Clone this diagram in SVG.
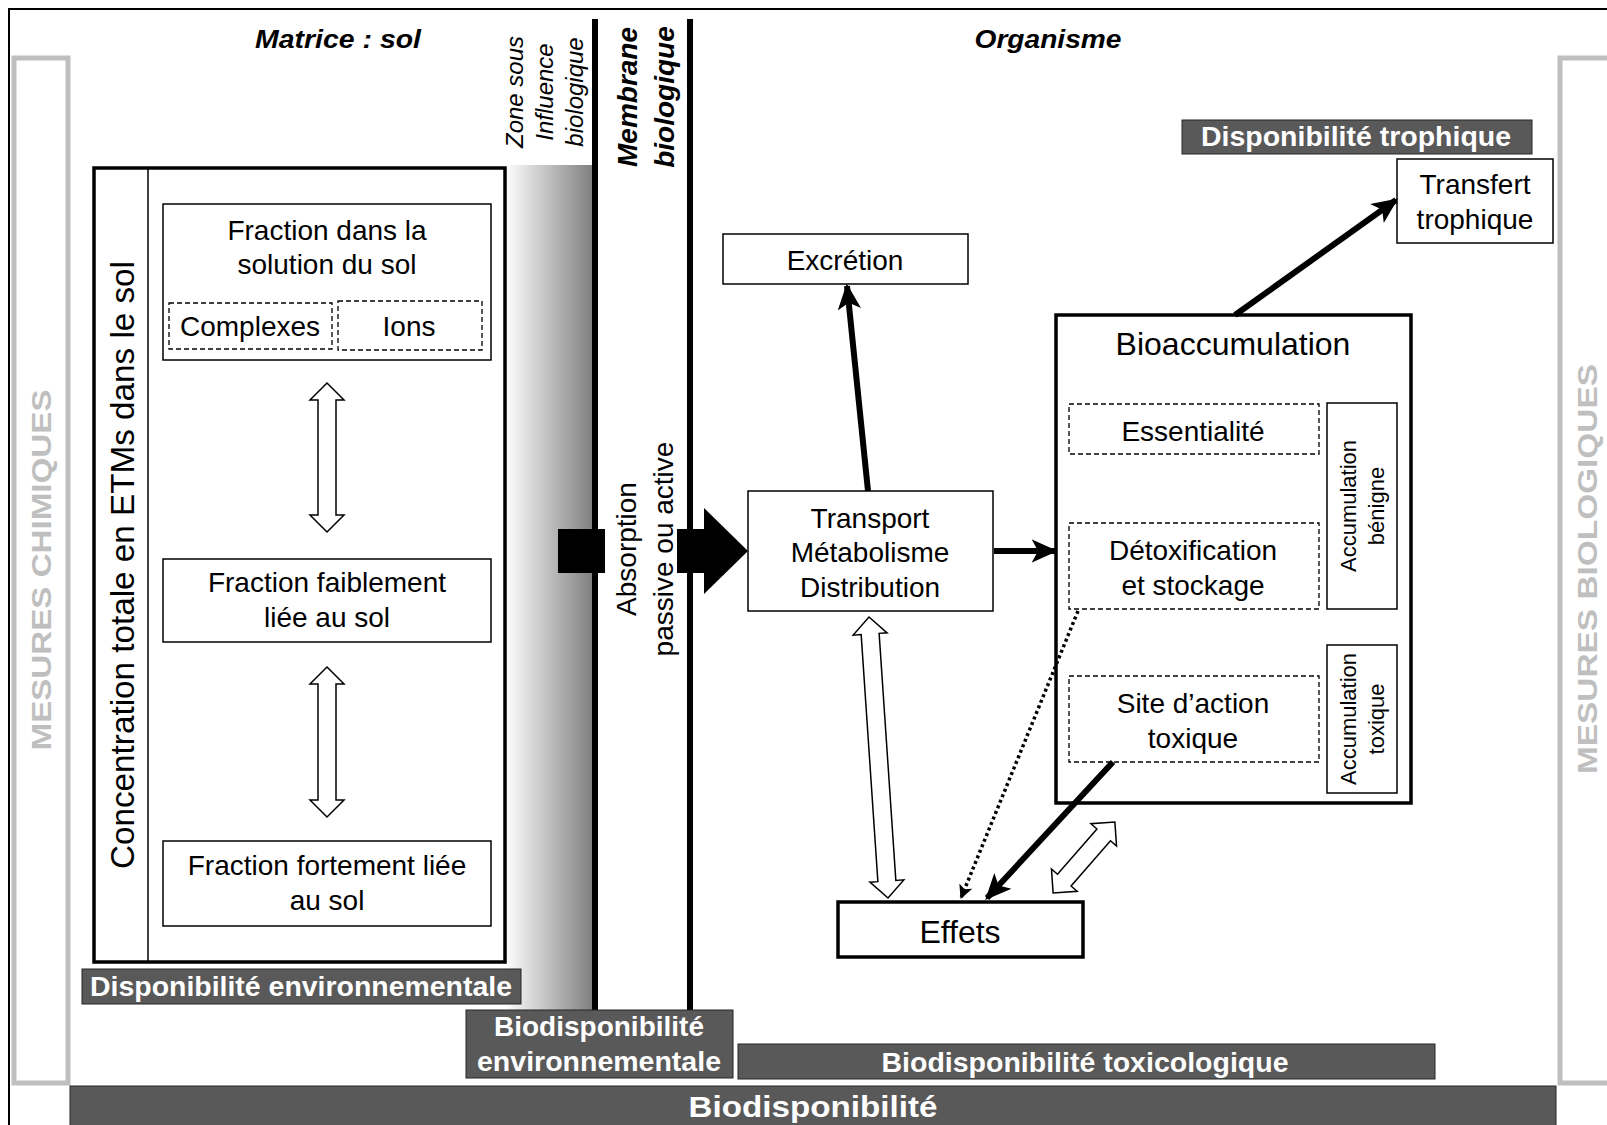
<svg xmlns="http://www.w3.org/2000/svg" width="1607" height="1125" viewBox="0 0 1607 1125">
<defs>
<linearGradient id="zg" x1="0" y1="0" x2="1" y2="0">
<stop offset="0" stop-color="#ffffff"/>
<stop offset="1" stop-color="#7f7f7f"/>
</linearGradient>
<marker id="ah" viewBox="0 0 20 20" refX="18" refY="10" markerWidth="26" markerHeight="26" markerUnits="userSpaceOnUse" orient="auto">
<path d="M0,1 L20,10 L0,19 L5,10 z" fill="#000"/>
</marker>
<marker id="ahs" viewBox="0 0 12 12" refX="11" refY="6" markerWidth="14" markerHeight="14" markerUnits="userSpaceOnUse" orient="auto">
<path d="M0,0 L12,6 L0,12 L3,6 z" fill="#000"/>
</marker>
<style>
.t{font-family:"Liberation Sans",Arial,sans-serif;font-size:28px;fill:#000;text-anchor:middle}
.big{font-size:32px}
.sm{font-size:22px}
.hd{font-family:"Liberation Sans Narrow","Liberation Sans",Arial,sans-serif;font-weight:bold;font-style:italic;font-size:25px;text-anchor:middle;fill:#000}
.it{font-family:"Liberation Sans",Arial,sans-serif;font-style:italic;font-size:24px;text-anchor:middle;fill:#000}
.mb{font-family:"Liberation Sans",Arial,sans-serif;font-style:italic;font-weight:bold;font-size:28px;text-anchor:middle;fill:#000}
.lab{font-family:"Liberation Sans Narrow","Liberation Sans",Arial,sans-serif;font-weight:bold;font-size:27px;fill:#fff;text-anchor:middle}
.side{font-family:"Liberation Sans Narrow","Liberation Sans",Arial,sans-serif;font-weight:bold;font-size:28px;fill:#bfbfbf;text-anchor:middle}
.box{fill:#fff;stroke:#000;stroke-width:1.5}
.thick{fill:#fff;stroke:#000;stroke-width:3.5}
.dash{fill:none;stroke:#000;stroke-width:1.3;stroke-dasharray:5,3}
.dark{fill:#595959;stroke:#262626;stroke-width:1}
.hollow{fill:#fff;stroke:#000;stroke-width:1.5}
.conn{stroke:#000;stroke-width:6;fill:none}
</style>
</defs>

<!-- outer frame -->
<rect x="9" y="9" width="1640" height="1140" fill="#fff" stroke="#000" stroke-width="2"/>

<!-- side brackets -->
<g id="mesures-chimiques">
<rect x="14" y="58" width="54" height="1025" fill="none" stroke="#bfbfbf" stroke-width="5"/>
<text class="side" transform="translate(51,570) rotate(-90)" textLength="361" lengthAdjust="spacingAndGlyphs">MESURES CHIMIQUES</text>
</g>
<g id="mesures-biologiques">
<rect x="1560" y="58" width="80" height="1025" fill="none" stroke="#bfbfbf" stroke-width="5"/>
<text class="side" transform="translate(1597,569) rotate(-90)" textLength="410" lengthAdjust="spacingAndGlyphs">MESURES BIOLOGIQUES</text>
</g>

<!-- zone under biological influence -->
<g id="zone">
<rect x="505" y="165" width="88" height="845" fill="url(#zg)"/>
<text class="it" transform="translate(523,92) rotate(-90)">Zone sous</text>
<text class="it" transform="translate(553,92) rotate(-90)">Influence</text>
<text class="it" transform="translate(583,92) rotate(-90)">biologique</text>
</g>

<!-- membrane lines -->
<g id="membrane">
<line x1="595" y1="19" x2="595" y2="1010" stroke="#000" stroke-width="6"/>
<line x1="690" y1="19" x2="690" y2="1010" stroke="#000" stroke-width="6"/>
<text class="mb" transform="translate(637,97) rotate(-90)">Membrane</text>
<text class="mb" transform="translate(674,97) rotate(-90)">biologique</text>
</g>

<!-- headings -->
<text class="hd" x="338" y="48" textLength="166" lengthAdjust="spacingAndGlyphs">Matrice : sol</text>
<text class="hd" x="1048" y="48" textLength="147" lengthAdjust="spacingAndGlyphs">Organisme</text>

<!-- soil matrix box -->
<g id="sol">
<rect class="thick" x="94" y="168" width="411" height="794"/>
<line x1="148" y1="168" x2="148" y2="962" stroke="#000" stroke-width="1.5"/>
<text class="t" transform="translate(134,565) rotate(-90)" style="font-size:34px" textLength="608" lengthAdjust="spacingAndGlyphs">Concentration totale en ETMs dans le sol</text>
</g>

<g id="fraction-solution">
<rect class="box" x="163" y="204" width="328" height="156"/>
<text class="t" x="327" y="240">Fraction dans la</text>
<text class="t" x="327" y="274">solution du sol</text>
</g>
<g id="complexes">
<rect class="dash" x="169" y="303" width="163" height="46"/>
<text class="t" x="250" y="336">Complexes</text>
</g>
<g id="ions">
<rect class="dash" x="338" y="301" width="144" height="49"/>
<text class="t" x="409" y="336">Ions</text>
</g>
<g id="fraction-faible">
<rect class="box" x="163" y="559" width="328" height="83"/>
<text class="t" x="327" y="592">Fraction faiblement</text>
<text class="t" x="327" y="627">liée au sol</text>
</g>
<g id="fraction-forte">
<rect class="box" x="163" y="841" width="328" height="85"/>
<text class="t" x="327" y="875">Fraction fortement liée</text>
<text class="t" x="327" y="910">au sol</text>
</g>

<!-- organism nodes -->
<g id="excretion">
<rect class="box" x="723" y="234" width="245" height="50"/>
<text class="t" x="845" y="270">Excrétion</text>
</g>
<g id="transport">
<rect class="box" x="748" y="491" width="245" height="120"/>
<text class="t" x="870" y="528">Transport</text>
<text class="t" x="870" y="562">Métabolisme</text>
<text class="t" x="870" y="597">Distribution</text>
</g>
<g id="transfert">
<rect class="box" x="1397" y="159" width="156" height="84"/>
<text class="t" x="1475" y="194">Transfert</text>
<text class="t" x="1475" y="229">trophique</text>
</g>
<g id="bioaccumulation">
<rect class="thick" x="1056" y="315" width="355" height="488"/>
<text class="t big" x="1233" y="355">Bioaccumulation</text>
</g>
<g id="essentialite">
<rect class="dash" x="1069" y="404" width="250" height="50"/>
<text class="t" x="1193" y="441">Essentialité</text>
</g>
<g id="detox">
<rect class="dash" x="1069" y="523" width="250" height="86"/>
<text class="t" x="1193" y="560">Détoxification</text>
<text class="t" x="1193" y="595">et stockage</text>
</g>
<g id="site-action">
<rect class="dash" x="1069" y="676" width="250" height="86"/>
<text class="t" x="1193" y="713">Site d’action</text>
<text class="t" x="1193" y="748">toxique</text>
</g>
<g id="acc-benigne">
<rect class="box" x="1327" y="403" width="70" height="206"/>
<text class="t sm" transform="translate(1356,506) rotate(-90)">Accumulation</text>
<text class="t sm" transform="translate(1384,506) rotate(-90)">bénigne</text>
</g>
<g id="acc-toxique">
<rect class="box" x="1327" y="645" width="70" height="148"/>
<text class="t sm" transform="translate(1356,719) rotate(-90)">Accumulation</text>
<text class="t sm" transform="translate(1384,719) rotate(-90)">toxique</text>
</g>
<g id="effets">
<rect class="thick" x="838" y="902" width="245" height="55"/>
<text class="t big" x="960" y="943">Effets</text>
</g>

<!-- absorption -->
<g id="absorption">
<rect x="558" y="529" width="47" height="44" fill="#000"/>
<path d="M677,529 L704,529 L704,508 L748,551 L704,594 L704,573 L677,573 z" fill="#000"/>
<text class="t" transform="translate(636,549) rotate(-90)">Absorption</text>
<text class="t" transform="translate(673,549) rotate(-90)">passive ou active</text>
</g>

<!-- connectors -->
<g id="connectors">
<line class="conn" x1="868" y1="491" x2="847" y2="286" marker-end="url(#ah)"/>
<line class="conn" x1="994" y1="551" x2="1055" y2="551" marker-end="url(#ah)"/>
<line class="conn" x1="1235" y1="315" x2="1396" y2="200" marker-end="url(#ah)"/>
<line class="conn" x1="1113" y1="762" x2="987" y2="898" marker-end="url(#ah)"/>
<line x1="1078" y1="611" x2="961" y2="898" stroke="#000" stroke-width="3.5" stroke-dasharray="3,3" marker-end="url(#ahs)"/>
<path class="hollow" d="M327,383 L344,400 L336,400 L336,515 L344,515 L327,532 L310,515 L318,515 L318,400 L310,400 z"/>
<path class="hollow" d="M327,667 L344,684 L336,684 L336,800 L344,800 L327,817 L310,800 L318,800 L318,684 L310,684 z"/>
<path class="hollow" transform="translate(878.5,757.5) rotate(-3.87)" d="M0,-140.8 L17,-123.8 L9,-123.8 L9,123.8 L17,123.8 L0,140.8 L-17,123.8 L-9,123.8 L-9,-123.8 L-17,-123.8 z"/>
<path class="hollow" transform="translate(1084,857.5) rotate(41.1)" d="M0,-47 L17,-30 L9,-30 L9,30 L17,30 L0,47 L-17,30 L-9,30 L-9,-30 L-17,-30 z"/>
</g>

<!-- availability labels -->
<g id="dispo-env">
<rect class="dark" x="82" y="969" width="439" height="35"/>
<text class="lab" x="301" y="996" textLength="422" lengthAdjust="spacingAndGlyphs">Disponibilité environnementale</text>
</g>
<g id="biodispo-env">
<rect class="dark" x="466" y="1010" width="267" height="68"/>
<text class="lab" x="599" y="1036" textLength="210" lengthAdjust="spacingAndGlyphs">Biodisponibilité</text>
<text class="lab" x="599" y="1071" textLength="244" lengthAdjust="spacingAndGlyphs">environnementale</text>
</g>
<g id="biodispo-tox">
<rect class="dark" x="738" y="1044" width="697" height="35"/>
<text class="lab" x="1085" y="1072" textLength="407" lengthAdjust="spacingAndGlyphs">Biodisponibilité toxicologique</text>
</g>
<g id="biodispo">
<rect class="dark" x="70" y="1086" width="1486" height="45"/>
<text class="lab" x="813" y="1117" style="font-size:30px" textLength="249" lengthAdjust="spacingAndGlyphs">Biodisponibilité</text>
</g>
<g id="dispo-trophique">
<rect class="dark" x="1182" y="120" width="350" height="34"/>
<text class="lab" x="1356" y="146" textLength="310" lengthAdjust="spacingAndGlyphs">Disponibilité trophique</text>
</g>
</svg>
